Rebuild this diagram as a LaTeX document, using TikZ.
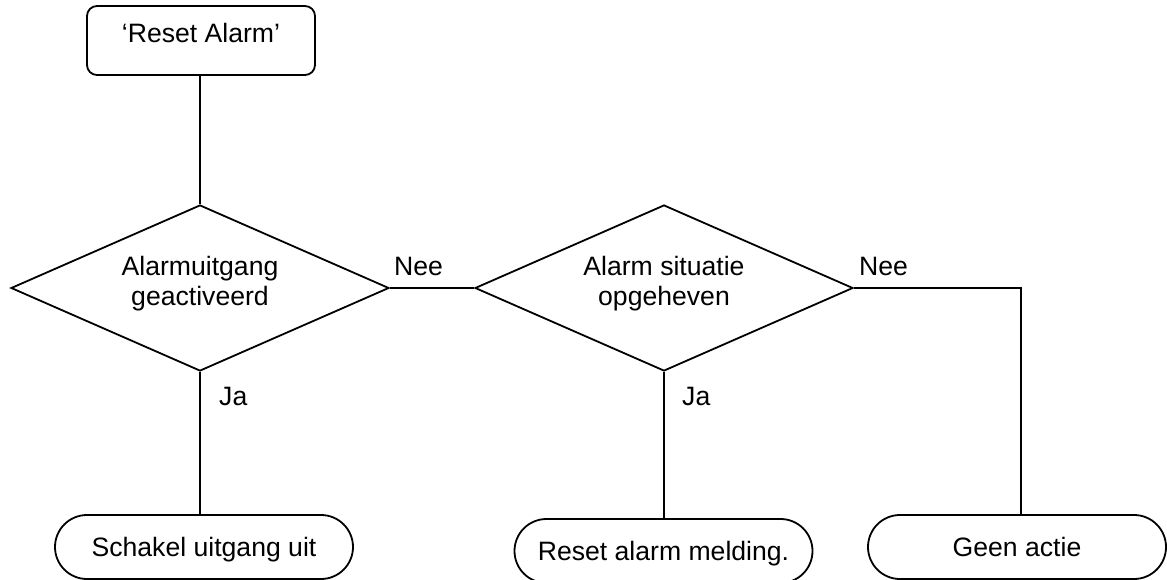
\documentclass[tikz,border=0pt]{standalone}
\usepackage{fontspec}
\setmainfont{Liberation Sans}
\usetikzlibrary{shapes.geometric}
\newcommand\twolines[2]{\raisebox{0pt}[\height][\dimexpr\depth+8pt\relax]{\begin{tabular}{@{}c@{}}#1\\#2\end{tabular}}}
\begin{document}
\begin{tikzpicture}[x=1pt,y=-1pt,
  every node/.style={font=\fontsize{26.6}{30}\selectfont},
  conn/.style={line width=1.8pt},
  startbox/.style={draw,line width=1.8pt,rounded corners=10pt,minimum width=228pt,minimum height=69pt,inner sep=0pt,text height=19pt,text depth=14pt},
  decision/.style={draw,line width=1.8pt,diamond,aspect=2.28,minimum width=378pt,minimum height=166pt,inner sep=0pt},
  terminal/.style={draw,line width=1.8pt,rounded corners=32pt,minimum width=298pt,minimum height=64pt,inner sep=0pt,text height=19pt,text depth=0pt},
  lbl/.style={anchor=base west,inner sep=0pt}]
\useasboundingbox (0,0) rectangle (1167,580);
\node[startbox] (start) at (201,40.5) {‘Reset Alarm’};
\node[decision] (d1) at (200,288) {\twolines{Alarmuitgang}{geactiveerd}};
\node[decision] (d2) at (664,288) {\twolines{Alarm situatie}{opgeheven}};
\node[terminal] (s1) at (204,547) {Schakel uitgang uit};
\node[terminal] (s2) at (663.5,551) {Reset alarm melding.};
\node[terminal] (s3) at (1017,547) {Geen actie};
\coordinate (c3) at (1021,288);
\draw[conn] (d1.north |- start.south) -- (d1.north);
\draw[conn] (d1.east) -- (d2.west);
\draw[conn] (d1.south) -- (d1.south |- s1.north);
\draw[conn] (d2.south) -- (d2.south |- s2.north);
\draw[conn] (d2.east) -- (c3) -- (c3 |- s3.north);
\node[lbl] (nee1) at (394,275) {Nee};
\node[lbl] (nee2) at (859,275) {Nee};
\node[lbl] (ja1) at (219,405) {Ja};
\node[lbl] (ja2) at (682,405) {Ja};
\end{tikzpicture}
\end{document}
